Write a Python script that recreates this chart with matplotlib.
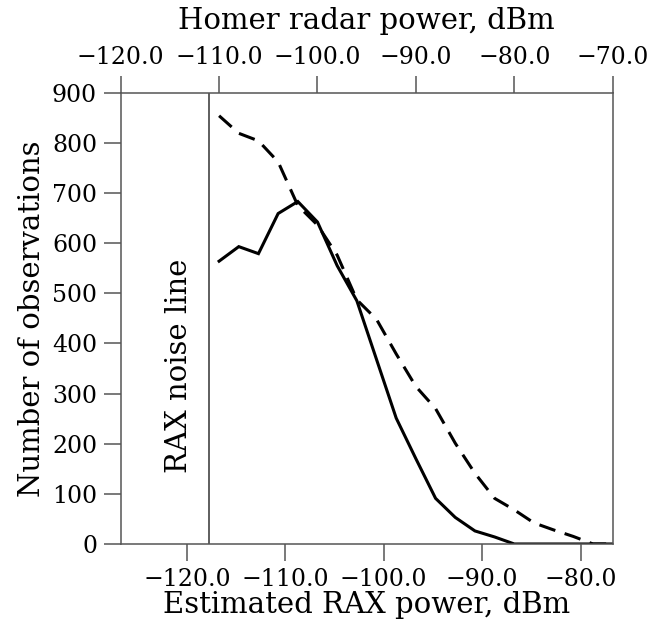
import matplotlib
matplotlib.use("Agg")
import matplotlib.pyplot as plt
from matplotlib.ticker import FuncFormatter, FixedLocator

# Homer radar power (top axis), dBm
homer_power = [-110, -108, -106, -104, -102, -100, -98, -96, -94, -92, -90,
               -88, -86, -84, -82, -80, -78, -76, -74, -72, -70]
solid_counts = [564, 593, 579, 659, 683, 642, 555, 485, 368, 251, 170,
                91, 53, 26, 14, 0, 0, 0, 0, 0, 0]
dashed_counts = [854, 819, 804, 762, 675, 636, 576, 487, 448, 379, 314,
                 270, 201, 141, 91, 68, 42, 28, 15, 0, 0]

offset_db = 6.73           # Estimated RAX power = Homer power - offset
rax_noise = -117.8         # RAX noise line (bottom-axis dBm)
top_ticks = [-120, -110, -100, -90, -80, -70]
bottom_ticks = [-120, -110, -100, -90, -80]
y_ticks = [0, 100, 200, 300, 400, 500, 600, 700, 800, 900]

FONT = "DejaVu Serif"
plt.rcParams["font.family"] = FONT
GRAY = "#555555"
TICK_FS = 17
LABEL_FS = 21

fig = plt.figure(figsize=(6.61, 6.28), dpi=100)
ax = fig.add_axes([0.1826, 0.1338, 0.7443, 0.7186])

ax.plot(homer_power, solid_counts, color="black", lw=2.2, solid_joinstyle="miter")
ax.plot(homer_power, dashed_counts, color="black", lw=2.2, dashes=(5.5, 3.2))
ax.axvline(rax_noise + offset_db, color="#333333", lw=1.1)
ax.text(rax_noise + offset_db - 3.0, 356, "RAX noise line", rotation=90,
        ha="center", va="center", fontsize=LABEL_FS)

ax.set_xlim(-120, -70)
ax.set_ylim(0, 900)

fmt = FuncFormatter(lambda v, p: f"{v:.1f}".replace("-", "\u2212"))

ax.xaxis.tick_top()
ax.xaxis.set_label_position("top")
ax.xaxis.set_major_locator(FixedLocator(top_ticks))
ax.xaxis.set_major_formatter(fmt)
ax.set_xlabel("Homer radar power, dBm", fontsize=LABEL_FS, labelpad=12)

ax.yaxis.set_major_locator(FixedLocator(y_ticks))
ax.set_ylabel("Number of observations", fontsize=LABEL_FS, labelpad=4)

sec = ax.secondary_xaxis("bottom", functions=(lambda x: x - offset_db,
                                               lambda x: x + offset_db))
sec.xaxis.set_major_locator(FixedLocator(bottom_ticks))
sec.xaxis.set_major_formatter(fmt)
sec.set_xlabel("Estimated RAX power, dBm", fontsize=LABEL_FS, labelpad=0)
sec.tick_params(direction="out", length=12, width=1.1, color=GRAY,
                labelsize=TICK_FS, pad=5)
sec.spines["bottom"].set_visible(False)

ax.tick_params(axis="both", direction="out", length=12, width=1.1, color=GRAY,
               labelsize=TICK_FS, pad=5)
ax.tick_params(axis="y", right=False)
for s in ax.spines.values():
    s.set_color(GRAY)
    s.set_linewidth(1.1)

fig.savefig("out.png", dpi=100, facecolor="white")
